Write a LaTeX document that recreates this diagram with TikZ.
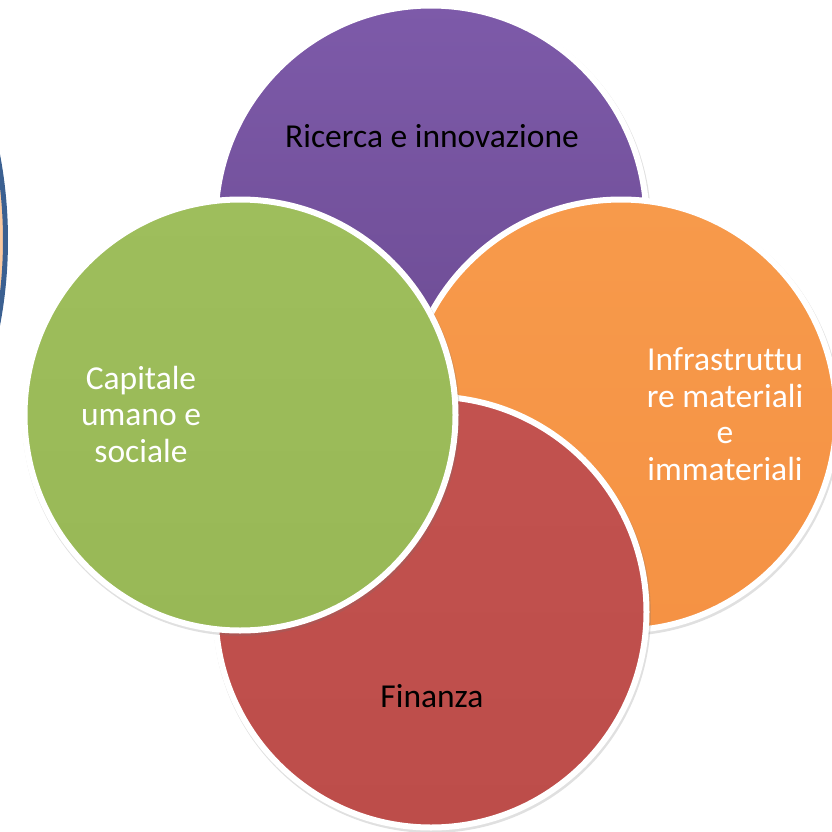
\documentclass[tikz,border=0pt]{standalone}
\usepackage{fontspec}
\setmainfont{Carlito}[Ligatures=NoCommon]
\usetikzlibrary{shadows}
\definecolor{purpleT}{HTML}{7D5AA9}
\definecolor{purpleB}{HTML}{6B4A91}
\definecolor{orangeT}{HTML}{F79A4B}
\definecolor{orangeB}{HTML}{F59244}
\definecolor{redT}{HTML}{C2524F}
\definecolor{redB}{HTML}{BD4D4A}
\definecolor{greenT}{HTML}{9EBE5C}
\definecolor{greenB}{HTML}{98B856}
\definecolor{blueedge}{HTML}{3B6091}
\definecolor{peach}{HTML}{FAC9A0}
\begin{document}
\begin{tikzpicture}[x=1pt,y=-1pt,
  venn/.style={circle, draw=white, line width=6pt, minimum size=431pt, inner sep=0pt,
    drop shadow={shadow xshift=1pt, shadow yshift=-2pt, shadow scale=1.016, opacity=.22, fill=black!55}},
  lbl/.style={font=\fontsize{33.5}{36.5}\selectfont, inner sep=0pt, align=center}]
\useasboundingbox (0,0) rectangle (832,832);
\begin{scope}
\clip (0,0) rectangle (832,832);
\node[circle, draw=blueedge, fill=peach, line width=5pt, minimum size=911pt, inner sep=0pt] (side) at (-450,240) {};
\node[venn, top color=purpleT, bottom color=purpleB] (research) at (431,221) {};
\node[venn, top color=orangeT, bottom color=orangeB] (infra) at (621,415) {};
\node[venn, top color=redT, bottom color=redB] (finance) at (431,612) {};
\node[venn, top color=greenT, bottom color=greenB] (capital) at (240,415) {};
\end{scope}
\node[lbl, anchor=base] (t1) at (432,147) {Ricerca e innovazione};
\node[lbl, text=white] (t2) at (141,414) {Capitale\\umano e\\sociale};
\node[lbl, text=white] (t3) at (725,414) {Infrastruttu\\re materiali\\e\\immateriali};
\node[lbl, anchor=base] (t4) at (432,707) {Finanza};
\end{tikzpicture}
\end{document}
